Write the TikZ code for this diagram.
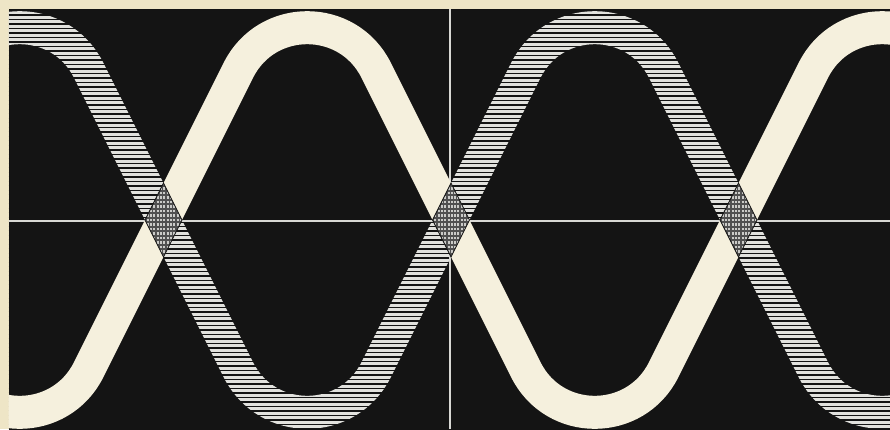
\documentclass[tikz,border=0pt]{standalone}
\usetikzlibrary{calc}
\definecolor{paper}{HTML}{EEE5C6}
\definecolor{ink}{HTML}{141414}
\definecolor{creamband}{HTML}{F5F0DD}
\definecolor{hatchwhite}{HTML}{E2E2DE}
\definecolor{axiscol}{HTML}{D8D8D4}
\definecolor{diamondfill}{HTML}{505050}
\newcommand\crossdiamond[1]{%
  \begin{scope}
    \clip ([shift={(0,-36.9)}]#1) -- ([shift={(18.45,0)}]#1) -- ([shift={(0,36.9)}]#1) -- ([shift={(-18.45,0)}]#1) -- cycle;
    \fill[diamondfill] ([shift={(-20,-40)}]#1) rectangle ([shift={(20,40)}]#1);
    \foreach \k in {-9,...,9} \draw[dotrow] ([shift={(-20,\k*4.5)}]#1) -- ([shift={(20,\k*4.5)}]#1);
  \end{scope}
  \draw[diamondedge] ([shift={(0,-36.9)}]#1) -- ([shift={(18.45,0)}]#1) -- ([shift={(0,36.9)}]#1) -- ([shift={(-18.45,0)}]#1) -- cycle;}
\begin{document}
\begin{tikzpicture}[x=1pt,y=-1pt,
  band/.style={line width=33pt, line cap=butt, line join=round},
  gapline/.style={ink, line width=1.4pt},
  axisline/.style={axiscol, line width=2pt},
  diamondedge/.style={ink, line width=0.8pt},
  dotrow/.style={hatchwhite!90!black, line width=2.2pt, dash pattern=on 2pt off 1.3pt}]
\useasboundingbox (0,0) rectangle (890,429);
\fill[paper] (0,0) rectangle (890,429);
\fill[ink] (8.5,9) rectangle (890,429);
\coordinate (x1) at (163.5,220);
\coordinate (x2) at (451,220);
\coordinate (x3) at (738.5,220);
\coordinate (lt) at (8.5,220.5);
\coordinate (rt) at (890,220.5);
\coordinate (tp) at (450,9);
\coordinate (bt) at (450,429);
\begin{scope}
  \clip (8.5,9) rectangle (890,429);
  % hatched band
  \draw[band, hatchwhite] (-124,220) -- (-49.12,70.24) .. controls (-20.74,13.49) and (60.24,13.49) .. (88.62,70.24)
    -- (238.38,369.76) .. controls (266.76,426.51) and (347.74,426.51) .. (376.12,369.76)
    -- (525.88,70.24) .. controls (554.26,13.49) and (635.24,13.49) .. (663.62,70.24)
    -- (813.38,369.76) .. controls (841.76,426.51) and (922.74,426.51) .. (951.12,369.76);
  \foreach \y in {10.5,15,...,429} \draw[gapline] (8.5,\y) -- (890,\y);
  % axes
  \draw[axisline] (lt) -- (rt);
  \draw[axisline] (tp) -- (bt);
  % cream band
  \draw[band, creamband] (-124,220) -- (-49.12,369.76) .. controls (-20.74,426.51) and (60.24,426.51) .. (88.62,369.76)
    -- (238.38,70.24) .. controls (266.76,13.49) and (347.74,13.49) .. (376.12,70.24)
    -- (525.88,369.76) .. controls (554.26,426.51) and (635.24,426.51) .. (663.62,369.76)
    -- (813.38,70.24) .. controls (841.76,13.49) and (922.74,13.49) .. (951.12,70.24);
  \crossdiamond{x1}
  \crossdiamond{x2}
  \crossdiamond{x3}
\end{scope}
\end{tikzpicture}
\end{document}
